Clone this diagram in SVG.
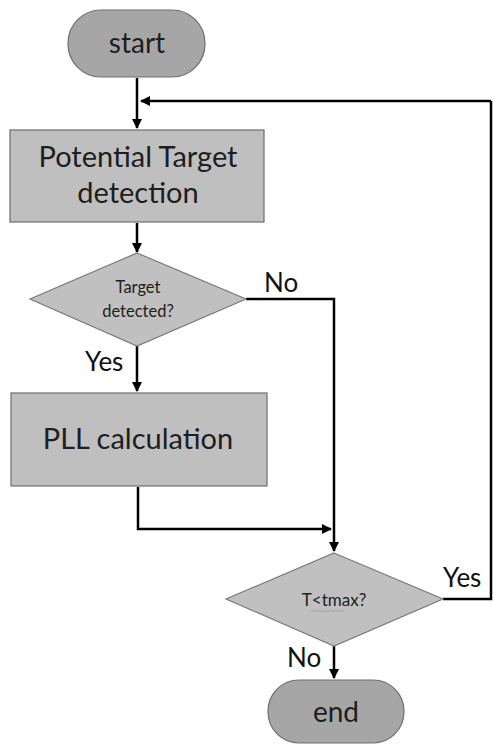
<svg xmlns="http://www.w3.org/2000/svg" width="493" height="746" viewBox="0 0 493 746">
<style>
.term{fill:#a6a6a6;stroke:#6e6e6e;stroke-width:1.2}
.proc{fill:#bfbfbf;stroke:#6e6e6e;stroke-width:1.2}
.dec{fill:#c0c0c0;stroke:#7a7a7a;stroke-width:1.2}
.t{font-family:Lato,"Open Sans","Liberation Sans",sans-serif;fill:#1e1e1e;text-anchor:middle}
.big{font-size:29px}
.small{font-size:16.5px}
.lbl{font-family:Lato,"Open Sans","Liberation Sans",sans-serif;fill:#111;font-size:26px}
.c{fill:none;stroke:#000;stroke-width:2.5}
</style>
<defs>
<marker id="ah" viewBox="0 0 10 10" refX="9" refY="5" markerWidth="4" markerHeight="4" orient="auto" markerUnits="strokeWidth">
<path d="M0,0 L10,5 L0,10 z" fill="#000"/>
</marker>
</defs>
<rect width="493" height="746" fill="#fff"/>
<g id="connectors">
<path class="c" d="M137,78 V128" marker-end="url(#ah)"/>
<path class="c" d="M491,101 H141" marker-end="url(#ah)"/>
<path class="c" d="M137,223 V252" marker-end="url(#ah)"/>
<path class="c" d="M137,346 V391" marker-end="url(#ah)"/>
<path class="c" d="M246,299 H334 V551" marker-end="url(#ah)"/>
<path class="c" d="M138,487 V529 H331" marker-end="url(#ah)"/>
<path class="c" d="M443,599 H491 V101"/>
<path class="c" d="M334,646 V678" marker-end="url(#ah)"/>
</g>
<g id="start">
<rect class="term" x="68" y="10" width="137" height="67" rx="33" ry="33"/>
<text class="t" x="137" y="53" font-size="28">start</text>
</g>
<g id="detect">
<rect class="proc" x="10" y="130" width="254" height="92"/>
<text class="t big" x="138" y="167">Potential Target</text>
<text class="t big" x="138" y="203">detection</text>
</g>
<g id="dec1">
<polygon class="dec" points="137,253 246,299 137,346 30,299"/>
<text class="t small" x="138" y="293">Target</text>
<text class="t small" x="138" y="317">detected?</text>
</g>
<g id="pll">
<rect class="proc" x="11" y="393" width="256" height="93"/>
<text class="t big" x="138" y="449">PLL calculation</text>
</g>
<g id="dec2">
<polygon class="dec" points="334,553 443,599 334,646 226,599"/>
<text class="t" x="334" y="606" font-size="17">T&lt;tmax?</text>
<path d="M311,611 q1.5,-1.5 3,0 t3,0 t3,0 t3,0 t3,0 t3,0 t3,0 t3,0 t3,0 t3,0 t3,0" fill="none" stroke="#9a9a9a" stroke-width="0.8"/>
</g>
<g id="end">
<rect class="term" x="268" y="680" width="136" height="63" rx="31" ry="31"/>
<text class="t" x="336" y="722" font-size="28">end</text>
</g>
<g id="labels">
<text class="lbl" x="264" y="292">No</text>
<text class="lbl" x="85" y="371">Yes</text>
<text class="lbl" x="443" y="587">Yes</text>
<text class="lbl" x="287" y="667">No</text>
</g>
</svg>
